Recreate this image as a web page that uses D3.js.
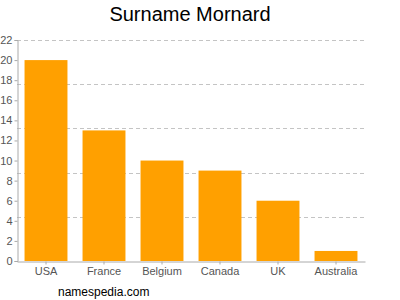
<!DOCTYPE html>
<html><head><meta charset="utf-8">
<script src="https://cdn.jsdelivr.net/npm/d3@7"></script>
<style>body{margin:0;background:#fff}svg{display:block;font-family:"Liberation Sans",Arial,sans-serif}</style>
</head><body>
<svg id="c" width="400" height="300"></svg>
<script>
const categories = ["USA","France","Belgium","Canada","UK","Australia"];
const values = [20,13,10,9,6,1];
const yTicks = [0,2,4,6,8,10,12,14,16,18,20,22];
const gridValues = [4.4,8.8,13.2,17.6,22];
const title = "Surname Mornard";
const footer = "namespedia.com";

(function(){
const svg = d3.select("#c");
const mL = 17, mR = 365, mT = 40, mB = 261;
const x = d3.scaleBand().domain(categories).range([mL,mR]).paddingInner(0.26).paddingOuter(0.13);
const y = d3.scaleLinear().domain([0,22]).range([mB,mT]);

svg.append("text").attr("x",190).attr("y",21).attr("text-anchor","middle")
  .attr("font-size",20).attr("fill","#000").text(title);

svg.append("g").selectAll("line").data(gridValues).join("line")
  .attr("x1",mL).attr("x2",mR).attr("y1",d=>Math.round(y(d))+0.5).attr("y2",d=>Math.round(y(d))+0.5)
  .attr("stroke","#c4c4c4").attr("stroke-dasharray","4,3");

svg.append("g").selectAll("rect").data(values).join("rect")
  .attr("x",(d,i)=>x(categories[i])).attr("width",x.bandwidth())
  .attr("y",d=>y(d)).attr("height",d=>mB-y(d)).attr("fill","#ffa000");

const ya = svg.append("g").attr("transform",`translate(${mL+0.5},0)`)
  .call(d3.axisLeft(y).tickValues(yTicks).tickSize(3).tickPadding(2).tickFormat(d3.format("d")));
ya.select(".domain").attr("stroke","#aaa");
ya.selectAll(".tick line").attr("stroke","#aaa");
ya.selectAll(".tick text").attr("fill","#555").attr("font-size",11).attr("font-family","Liberation Sans, Arial, sans-serif");

const xa = svg.append("g").attr("transform",`translate(0,${mB+0.5})`)
  .call(d3.axisBottom(x).tickSize(3).tickPadding(3).tickSizeOuter(0));
xa.select(".domain").attr("stroke","#aaa");
xa.selectAll(".tick line").attr("stroke","#aaa");
xa.selectAll(".tick text").attr("fill","#555").attr("font-size",11).attr("font-family","Liberation Sans, Arial, sans-serif");

svg.append("text").attr("x",58).attr("y",296).attr("font-size",12).attr("fill","#000").text(footer);
})();
</script>
</body></html>
